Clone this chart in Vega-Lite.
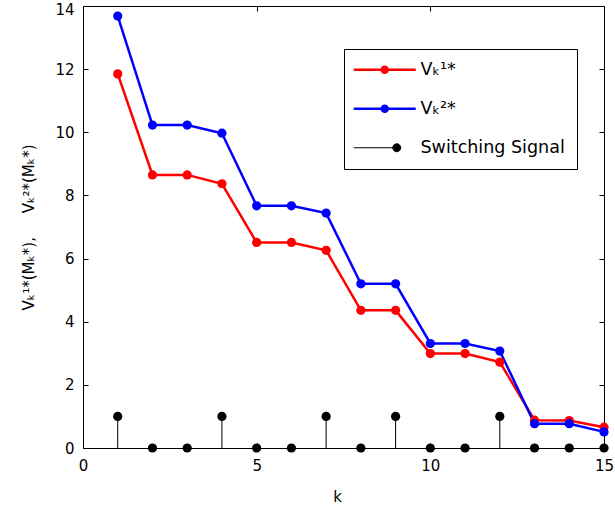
{
  "$schema": "https://vega.github.io/schema/vega-lite/v6.json",
  "autosize": {"type": "none"},
  "padding": {"left": 83, "top": 6, "right": 11, "bottom": 60},
  "width": 521,
  "height": 442,
  "background": "white",
  "config": {
    "view": {"stroke": "black", "strokeWidth": 1},
    "font": "DejaVu Sans",
    "axis": {"grid": false, "domain": false, "tickColor": "black", "tickSize": -5, "labelColor": "black", "labelFont": "DejaVu Sans", "labelFontSize": 15, "titleFont": "DejaVu Sans", "titleFontSize": 15, "titleFontWeight": "normal", "titleColor": "black"}
  },
  "data": {"values": [
    {"k": 1, "series": "V\u2096\u00b9*", "value": 11.85},
    {"k": 2, "series": "V\u2096\u00b9*", "value": 8.65},
    {"k": 3, "series": "V\u2096\u00b9*", "value": 8.65},
    {"k": 4, "series": "V\u2096\u00b9*", "value": 8.37},
    {"k": 5, "series": "V\u2096\u00b9*", "value": 6.51},
    {"k": 6, "series": "V\u2096\u00b9*", "value": 6.51},
    {"k": 7, "series": "V\u2096\u00b9*", "value": 6.26},
    {"k": 8, "series": "V\u2096\u00b9*", "value": 4.36},
    {"k": 9, "series": "V\u2096\u00b9*", "value": 4.36},
    {"k": 10, "series": "V\u2096\u00b9*", "value": 2.99},
    {"k": 11, "series": "V\u2096\u00b9*", "value": 2.99},
    {"k": 12, "series": "V\u2096\u00b9*", "value": 2.72},
    {"k": 13, "series": "V\u2096\u00b9*", "value": 0.88},
    {"k": 14, "series": "V\u2096\u00b9*", "value": 0.87},
    {"k": 15, "series": "V\u2096\u00b9*", "value": 0.66},
    {"k": 1, "series": "V\u2096\u00b2*", "value": 13.68},
    {"k": 2, "series": "V\u2096\u00b2*", "value": 10.23},
    {"k": 3, "series": "V\u2096\u00b2*", "value": 10.23},
    {"k": 4, "series": "V\u2096\u00b2*", "value": 9.97},
    {"k": 5, "series": "V\u2096\u00b2*", "value": 7.67},
    {"k": 6, "series": "V\u2096\u00b2*", "value": 7.67},
    {"k": 7, "series": "V\u2096\u00b2*", "value": 7.44},
    {"k": 8, "series": "V\u2096\u00b2*", "value": 5.2},
    {"k": 9, "series": "V\u2096\u00b2*", "value": 5.2},
    {"k": 10, "series": "V\u2096\u00b2*", "value": 3.31},
    {"k": 11, "series": "V\u2096\u00b2*", "value": 3.31},
    {"k": 12, "series": "V\u2096\u00b2*", "value": 3.07},
    {"k": 13, "series": "V\u2096\u00b2*", "value": 0.77},
    {"k": 14, "series": "V\u2096\u00b2*", "value": 0.77},
    {"k": 15, "series": "V\u2096\u00b2*", "value": 0.51},
    {"k": 1, "series": "Switching Signal", "value": 1},
    {"k": 2, "series": "Switching Signal", "value": 0},
    {"k": 3, "series": "Switching Signal", "value": 0},
    {"k": 4, "series": "Switching Signal", "value": 1},
    {"k": 5, "series": "Switching Signal", "value": 0},
    {"k": 6, "series": "Switching Signal", "value": 0},
    {"k": 7, "series": "Switching Signal", "value": 1},
    {"k": 8, "series": "Switching Signal", "value": 0},
    {"k": 9, "series": "Switching Signal", "value": 1},
    {"k": 10, "series": "Switching Signal", "value": 0},
    {"k": 11, "series": "Switching Signal", "value": 0},
    {"k": 12, "series": "Switching Signal", "value": 1},
    {"k": 13, "series": "Switching Signal", "value": 0},
    {"k": 14, "series": "Switching Signal", "value": 0},
    {"k": 15, "series": "Switching Signal", "value": 0}
  ]},
  "resolve": {"axis": {"x": "independent", "y": "independent"}},
  "layer": [
    {
      "transform": [{"filter": "datum.series !== 'Switching Signal'"}],
      "mark": {"type": "line", "strokeWidth": 2.5, "clip": false},
      "encoding": {
        "x": {"field": "k", "type": "quantitative", "scale": {"domain": [0, 15], "nice": false, "zero": false},
              "axis": {"orient": "bottom", "values": [0, 5, 10, 15], "labelPadding": 15, "title": "k", "titleX": 254, "titlePadding": 16, "labelFlush": false}},
        "y": {"field": "value", "type": "quantitative", "scale": {"domain": [0, 14], "nice": false},
              "axis": {"orient": "left", "values": [0, 2, 4, 6, 8, 10, 12, 14], "labelPadding": 14,
                       "labelOffset": {"condition": {"test": "datum.value === 14", "value": 3}, "value": 0},
                       "title": "V\u2096\u00b9*(M\u2096*),\u00a0\u00a0\u00a0\u00a0\u00a0V\u2096\u00b2*(M\u2096*)", "titlePadding": 18}},
        "color": {"field": "series", "type": "nominal",
                  "scale": {"domain": ["V\u2096\u00b9*", "V\u2096\u00b2*", "Switching Signal"], "range": ["#ff0000", "#0000ff", "#000000"]},
                  "legend": {
                    "title": null, "orient": "none", "legendX": 261, "legendY": 43,
                    "strokeColor": "black", "fillColor": "white", "padding": 12,
                    "symbolSize": 400, "symbolType": "circle", "rowPadding": 20, "labelOffset": 47,
                    "labelFont": "DejaVu Sans", "labelFontSize": 17.5, "labelColor": "black", "labelLimit": 300,
                    "encode": {"symbols": {"update": {
                      "shape": {"signal": "datum.value === 'Switching Signal' ? 'M-1.1,0H3.2M2.8,0A0.4,0.4 0 1,0 3.6,0A0.4,0.4 0 1,0 2.8,0Z' : 'M-1.1,0H5.1M1.7,0A0.3,0.3 0 1,0 2.3,0A0.3,0.3 0 1,0 1.7,0Z'"},
                      "strokeWidth": {"signal": "datum.value === 'Switching Signal' ? 1 : 2.5"},
                      "fill": {"signal": "scale('color', datum.value)"},
                      "stroke": {"signal": "scale('color', datum.value)"},
                      "opacity": {"value": 1},
                      "fillOpacity": {"value": 1},
                      "strokeOpacity": {"value": 1}
                    }}}
                  }}
      }
    },
    {
      "transform": [{"filter": "datum.series !== 'Switching Signal'"}],
      "mark": {"type": "point", "filled": true, "size": 85, "opacity": 1, "clip": false},
      "encoding": {
        "x": {"field": "k", "type": "quantitative", "axis": null},
        "y": {"field": "value", "type": "quantitative", "axis": null},
        "color": {"field": "series", "type": "nominal"}
      }
    },
    {
      "transform": [{"filter": "datum.series === 'Switching Signal'"}],
      "mark": {"type": "rule", "strokeWidth": 1, "clip": false},
      "encoding": {
        "x": {"field": "k", "type": "quantitative",
              "axis": {"orient": "top", "values": [0, 5, 10, 15], "labels": false, "title": null}},
        "y": {"field": "value", "type": "quantitative",
              "axis": {"orient": "right", "values": [0, 2, 4, 6, 8, 10, 12, 14], "labels": false, "title": null}},
        "y2": {"datum": 0},
        "color": {"field": "series", "type": "nominal"}
      }
    },
    {
      "transform": [{"filter": "datum.series === 'Switching Signal'"}],
      "mark": {"type": "point", "filled": true, "size": 85, "opacity": 1, "clip": false},
      "encoding": {
        "x": {"field": "k", "type": "quantitative", "axis": null},
        "y": {"field": "value", "type": "quantitative", "axis": null},
        "color": {"field": "series", "type": "nominal"}
      }
    }
  ]
}
